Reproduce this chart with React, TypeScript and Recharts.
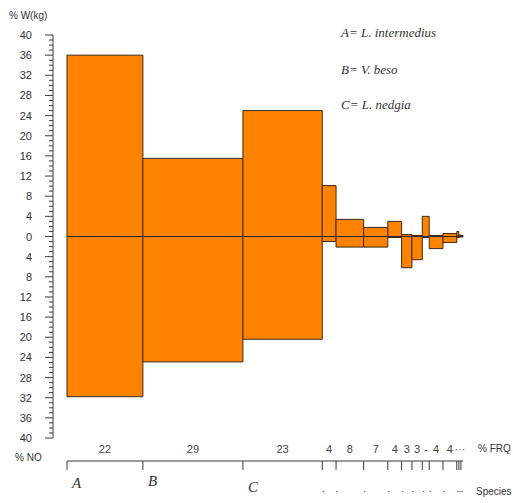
import React from 'react';
import { ComposedChart, XAxis, YAxis, ReferenceArea, ReferenceLine } from 'recharts';

// prey items, in order of decreasing importance
const species = ['A', 'B', 'C', '.', '.', '.', '.', '.', '.', '.', '.', '.', '.', '.', '.'];
// % frequency of occurrence (bar widths)
const frq = [22, 29, 23, 4, 8, 7, 4, 3, 3, 2, 4, 4, 0.6, 0.6, 0.6];
// % weight (drawn upwards)
const weight = [36, 15.5, 25, 10.1, 3.4, 1.8, 3, 0.4, 0.2, 4, 0.2, 0.6, 1, 0.3, 0.2];
// % number (drawn downwards)
const number = [31.8, 24.9, 20.4, 1, 2.1, 2.1, 0.2, 6.2, 4.6, 0.2, 2.4, 1.2, 0.2, 0.1, 0.1];

const legend = ['A= L. intermedius', 'B= V. beso', 'C= L. nedgia'];

const AXIS = '#3a3a3a';
const BAR = '#ff8200';
const EDGE = '#3d2a18';
const GAP = 14; // the y axis sits a little left of the first bar
const SANS = '"Liberation Sans", Arial, sans-serif';
const SERIF = '"Liberation Serif", "Times New Roman", serif';

const starts: number[] = [];
frq.reduce((acc, w) => {
  starts.push(acc);
  return acc + w;
}, 0);
const total = frq.reduce((a, b) => a + b, 0);
const mids = starts.map((s, i) => s + frq[i] / 2);

// the very narrow tail bars share one "···" label
const tail = frq.map((v, i) => i).filter((i) => frq[i] < 1);
const tailLabelAt = tail[Math.floor(tail.length / 2)];
const frqText = frq.map((v, i) => (v >= 3 ? String(v) : v >= 1 ? '-' : i === tailLabelAt ? '···' : ''));

const rows = species.map((s, i) => ({
  name: s,
  start: starts[i],
  mid: mids[i],
  end: starts[i] + frq[i],
  w: weight[i],
  n: -number[i],
}));

const yTicks: number[] = [];
for (let v = -40; v <= 40; v++) yTicks.push(v);

const YTick = (props: any) => {
  const { x, y, payload } = props;
  const v = payload.value as number;
  const major = v % 4 === 0;
  const ax = x - GAP;
  return (
    <g>
      <line x1={ax - (major ? 8 : 4)} x2={ax} y1={y} y2={y} stroke={AXIS} />
      {major && (
        <text x={ax - 21} y={y} dy={4} textAnchor="end" fontFamily={SANS} fontSize={11} fill="#333">
          {Math.abs(v)}
        </text>
      )}
    </g>
  );
};

const FrqTick = (props: any) => {
  const { x, y, index } = props;
  if (!frqText[index]) return <g />;
  return (
    <text x={x} y={y} dy={15} textAnchor="middle" fontFamily={SANS} fontSize={11} fill="#444">
      {frqText[index]}
    </text>
  );
};

const letterDy = [18, 16, 22];

const SpeciesTick = (props: any) => {
  const { x, y, index } = props;
  const name = species[index];
  if (name === '.') {
    return (
      <text x={x + 1} y={y} dy={22} textAnchor="middle" fontFamily={SANS} fontSize={11} fill="#555">
        {name}
      </text>
    );
  }
  return (
    <text x={x + 5} y={y} dy={letterDy[index]} fontFamily={SERIF} fontStyle="italic" fontSize={15} fill="#333">
      {name}
    </text>
  );
};

const textStyle: React.CSSProperties = {
  position: 'absolute',
  fontFamily: SANS,
  fontSize: 10,
  color: '#333',
  lineHeight: '12px',
  whiteSpace: 'nowrap',
};

export default function App() {
  return (
    <div style={{ position: 'absolute', left: 0, top: 0, width: 513, height: 503, background: '#fff' }}>
      <ComposedChart width={513} height={503} data={rows} margin={{ top: 35, right: 50, bottom: 0, left: 0 }}>
        <YAxis
          type="number"
          domain={[-40, 40]}
          ticks={yTicks}
          interval={0}
          width={67}
          tickSize={0}
          tickMargin={0}
          tickLine={false}
          tick={<YTick />}
          axisLine={{ stroke: AXIS, transform: `translate(${-GAP} 0)` }}
          allowDataOverflow
        />
        <XAxis
          xAxisId="frq"
          dataKey="mid"
          type="number"
          domain={[0, total]}
          ticks={mids}
          interval={0}
          height={23}
          tickSize={0}
          tickMargin={0}
          tickLine={false}
          axisLine={false}
          tick={<FrqTick />}
          allowDataOverflow
        />
        <XAxis
          xAxisId="sp"
          dataKey="start"
          type="number"
          domain={[0, total]}
          ticks={starts}
          interval={0}
          height={42}
          tickSize={9}
          tickMargin={0}
          tickLine={{ stroke: AXIS }}
          axisLine={{ stroke: AXIS }}
          tick={<SpeciesTick />}
          allowDataOverflow
        />
        {rows.map((r, i) => (
          <ReferenceArea
            key={i}
            xAxisId="sp"
            x1={r.start}
            x2={r.end}
            y1={r.n}
            y2={r.w}
            fill={BAR}
            fillOpacity={1}
            stroke={EDGE}
            strokeWidth={1}
            ifOverflow="visible"
          />
        ))}
        <ReferenceLine xAxisId="sp" y={0} stroke="#2a2a2a" strokeWidth={1} />
      </ComposedChart>

      <div style={{ ...textStyle, left: 9, top: 10 }}>% W(kg)</div>
      <div style={{ ...textStyle, left: 15, top: 452 }}>% NO</div>
      <div style={{ ...textStyle, left: 478, top: 443 }}>% FRQ</div>
      <div style={{ ...textStyle, left: 476, top: 486 }}>Species</div>

      {legend.map((t, i) => (
        <div
          key={t}
          style={{
            position: 'absolute',
            left: 341,
            top: [25, 62, 97][i],
            fontFamily: SERIF,
            fontStyle: 'italic',
            fontSize: 13,
            color: '#333',
            whiteSpace: 'nowrap',
          }}
        >
          {t}
        </div>
      ))}
    </div>
  );
}
